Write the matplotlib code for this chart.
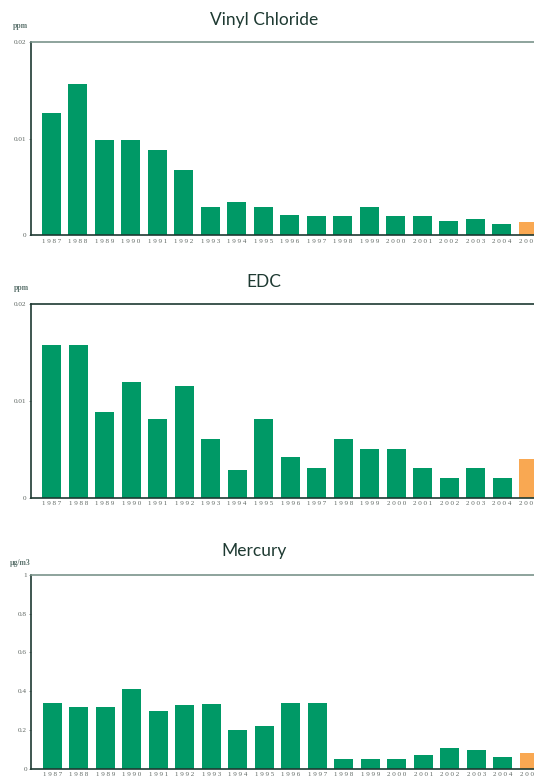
import matplotlib
matplotlib.use("Agg")
import matplotlib.pyplot as plt

years = list(range(1987, 2006))
vinyl_chloride = [0.0127, 0.0157, 0.0099, 0.0099, 0.0088, 0.0068, 0.0029, 0.0034, 0.0029,
                  0.0021, 0.0020, 0.0020, 0.0029, 0.0020, 0.0020, 0.0015, 0.0017, 0.0012, 0.0014]
edc = [0.0158, 0.0158, 0.0089, 0.0120, 0.0081, 0.0115, 0.0061, 0.0029, 0.0081,
       0.0042, 0.0031, 0.0061, 0.0051, 0.0051, 0.0031, 0.0021, 0.0031, 0.0021, 0.0040]
mercury = [0.34, 0.32, 0.32, 0.41, 0.30, 0.33, 0.335, 0.20, 0.22,
           0.34, 0.34, 0.05, 0.05, 0.05, 0.07, 0.105, 0.095, 0.06, 0.08]

titles = ["Vinyl Chloride", "EDC", "Mercury"]
units = ["ppm", "ppm", "\u00b5g/m3"]
yticks = [[0, 0.01, 0.02], [0, 0.01, 0.02], [0, 0.2, 0.4, 0.6, 0.8, 1]]
yticklabels = [["0", "0.01", "0.02"], ["0", "0.01", "0.02"], ["0", "0.2", "0.4", "0.6", "0.8", "1"]]
ylims = [0.02, 0.02, 1.0]
series = [vinyl_chloride, edc, mercury]

GREEN = "#009966"
ORANGE = "#F9A852"
DARK = "#1e3a32"
GRAYGREEN = "#7a948b"
TICKGRAY = "#5e6662"

W, H = 534, 778
fig = plt.figure(figsize=(W / 100, H / 100), dpi=100)

# (left px, top px, bottom px)
boxes = [(30.5, 42.0, 235.3), (30.7, 304.0, 498.0), (31.3, 574.7, 768.7)]
title_pos = [(264, 20), (264, 282), (254, 551)]
unit_pos = [(20, 26), (21, 288), (20, 563)]
top_colors = [GRAYGREEN, DARK, GRAYGREEN]

xleft = -0.79
xright = 18.79
spacing_px = 26.5
width_px = (xright - xleft) * spacing_px

for i in range(3):
    lpx, tpx, bpx = boxes[i]
    ax = fig.add_axes([lpx / W, (H - bpx) / H, width_px / W, (bpx - tpx) / H])
    vals = series[i]
    colors = [GREEN] * (len(vals) - 1) + [ORANGE]
    ax.bar(range(len(vals)), vals, width=0.72, color=colors, zorder=2)
    ax.set_xlim(xleft, xright)
    ax.set_ylim(0, ylims[i])
    ax.set_xticks(range(len(years)))
    ax.set_xticklabels([" ".join(str(y)) for y in years], fontsize=5.0,
                       family="Liberation Serif", color=TICKGRAY)
    ax.set_yticks(yticks[i])
    ax.set_yticklabels(yticklabels[i], fontsize=5.2, family="Liberation Serif", color=TICKGRAY)
    ax.tick_params(axis="x", length=0, pad=2.5)
    ax.tick_params(axis="y", length=1.5, width=0.5, color=TICKGRAY, pad=1.5)
    for side in ["left", "bottom"]:
        ax.spines[side].set_color(DARK)
        ax.spines[side].set_linewidth(1.2)
    ax.spines["top"].set_color(top_colors[i])
    ax.spines["top"].set_linewidth(1.2)
    ax.spines["right"].set_visible(False)

    tx, ty = title_pos[i]
    fig.text(tx / W, 1 - ty / H, titles[i], ha="center", va="center",
             fontsize=12.5, family="Lato", color=DARK)
    ux, uy = unit_pos[i]
    fig.text(ux / W, 1 - uy / H, units[i], ha="center", va="center",
             fontsize=5.6, family="Liberation Serif", color="#5f7570", fontweight="bold")

fig.savefig("out.png", dpi=100)
